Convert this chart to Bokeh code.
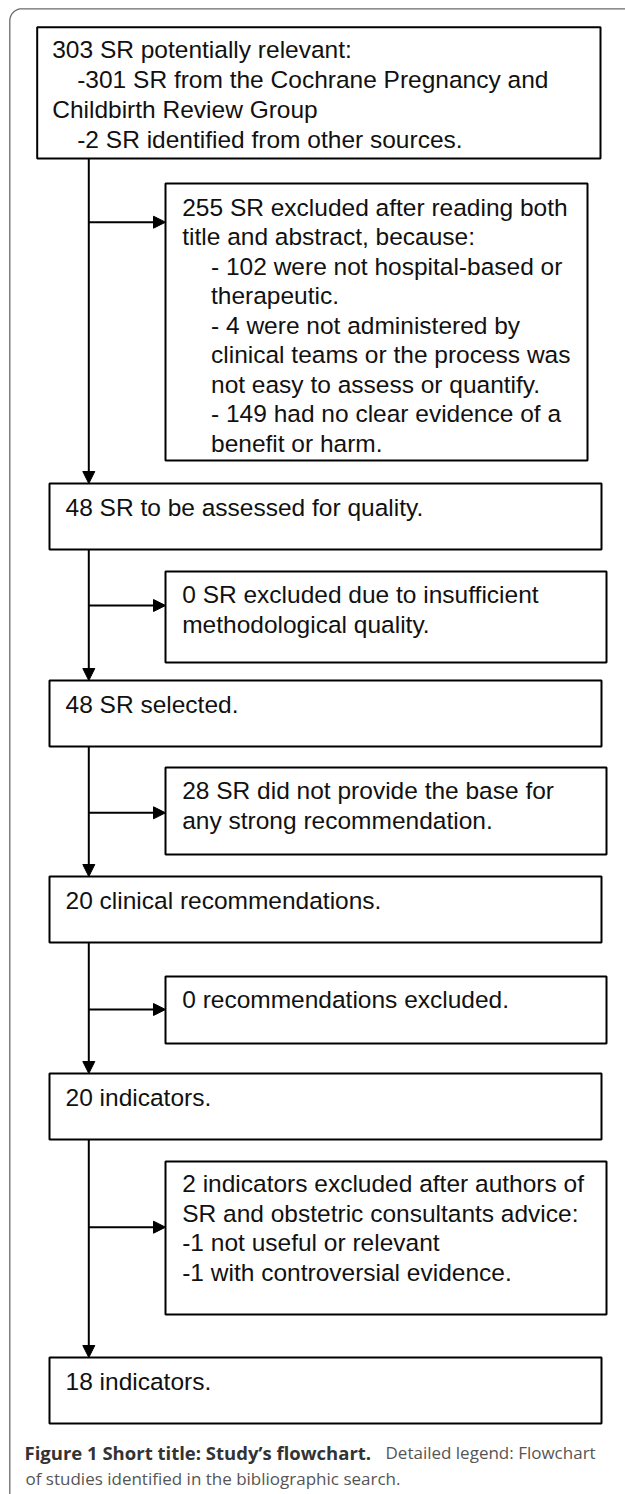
import numpy as np
from bokeh.plotting import figure
from bokeh.models import Range1d, Arrow, NormalHead
from bokeh.core.properties import value
from bokeh.embed import file_html
from bokeh.resources import INLINE

# ---------------- content ----------------
top_box_lines = [
    "303 SR potentially relevant:",
    "-301 SR from the Cochrane Pregnancy and",
    "Childbirth Review Group",
    "-2 SR identified  from other sources.",
]
top_box_indent = [0, 1, 0, 1]

main_box_texts = [
    "48 SR to be assessed for quality.",
    "48 SR selected.",
    "20 clinical recommendations.",
    "20 indicators.",
    "18 indicators.",
]

side_box_lines = [
    ["255 SR excluded after reading both",
     "title and abstract, because:",
     "- 102 were  not hospital-based or",
     "therapeutic.",
     "- 4 were not administered by",
     "clinical teams or the process was",
     "not easy to assess or quantify.",
     "- 149 had no clear evidence of a",
     "benefit or  harm."],
    ["0 SR excluded due to insufficient",
     "methodological quality."],
    ["28 SR did not provide the base for",
     "any strong recommendation."],
    ["0 recommendations excluded."],
    ["2 indicators excluded after authors of",
     "SR and obstetric consultants advice:",
     "-1 not useful or relevant",
     "-1 with controversial evidence."],
]
side_box_indent = [
    [0, 0, 1, 1, 1, 1, 1, 1, 1],
    [0, 0],
    [0, 0],
    [0],
    [0, 0, 0, 0],
]

caption_bold = "Figure 1 Short title: Study\u2019s flowchart."
caption_rest = "Detailed legend: Flowchart"
caption_line2 = "of studies identified in the bibliographic search."

# ---------------- layout ----------------
TOP_BOX = (36.7, 600, 26.7, 158)
MAIN_BOXES = [(49, 601, 483, 549), (49, 601, 680, 746), (49, 601, 876, 942),
              (49, 601, 1073, 1139), (49, 601, 1357, 1423)]
SIDE_BOXES = [(165, 587, 183, 460), (165, 606, 571, 662), (165, 606, 767, 854),
              (165, 606, 976, 1043), (165, 606, 1161, 1314)]
SIDE_ARROW_Y = [221.7, 605, 812.3, 1009, 1226.7]
SIDE_FIRST_Y = [206.7, 594, 790, 999.3, 1183.3]
LINE_H = 29.5
TRUNK_X = 88.3

W, H = 625, 1494
p = figure(width=W, height=H, x_range=Range1d(0, 625), y_range=Range1d(1494, 0),
           x_axis_type=None, y_axis_type=None, toolbar_location=None,
           output_backend="svg", min_border=0, outline_line_color=None,
           background_fill_color="white", border_fill_color="white")
p.grid.visible = False

# outer frame with rounded top-left corner
fx, fy, r = 9.3, 8.3, 12
th = np.linspace(np.pi, 1.5 * np.pi, 20)
frame_x = [fx] + list(fx + r + r * np.cos(th)) + [625]
frame_y = [1494] + list(fy + r + r * np.sin(th)) + [fy]
p.line(frame_x, frame_y, line_color="#6a6a6a", line_width=1.3)

# boxes
all_boxes = [TOP_BOX] + MAIN_BOXES + SIDE_BOXES
p.quad(left=[b[0] for b in all_boxes], right=[b[1] for b in all_boxes],
       top=[b[2] for b in all_boxes], bottom=[b[3] for b in all_boxes],
       fill_color=None, line_color="black", line_width=2)

FONT = value("Liberation Sans")
FS = "24.5px"
TXT = "#111111"

# top box text
tx = [51.7 if ind == 0 else 76.7 for ind in top_box_indent]
ty = [49 + 30 * i for i in range(len(top_box_lines))]
p.text(tx, ty, text=top_box_lines, text_font=FONT, text_font_size=FS,
       text_baseline="middle", text_align="left", text_color=TXT)

# main boxes text
p.text([65] * len(main_box_texts), [b[2] + 23.5 for b in MAIN_BOXES], text=main_box_texts,
       text_font=FONT, text_font_size=FS, text_baseline="middle", text_align="left",
       text_color=TXT)

# side boxes text
sx, sy, st = [], [], []
for lines, inds, y0 in zip(side_box_lines, side_box_indent, SIDE_FIRST_Y):
    for i, (ln, ind) in enumerate(zip(lines, inds)):
        sx.append(181.7 if ind == 0 else 210.5)
        sy.append(y0 + LINE_H * i)
        st.append(ln)
p.text(sx, sy, text=st, text_font=FONT, text_font_size=FS,
       text_baseline="middle", text_align="left", text_color=TXT)

# trunk arrows (down)
prev_bottom = TOP_BOX[3]
for b in MAIN_BOXES:
    p.add_layout(Arrow(end=NormalHead(size=12, fill_color="black", line_color="black", line_width=1),
                       x_start=TRUNK_X, y_start=prev_bottom, x_end=TRUNK_X, y_end=b[2],
                       line_width=2, line_color="black"))
    prev_bottom = b[3]

# side arrows
for b, ay in zip(SIDE_BOXES, SIDE_ARROW_Y):
    p.add_layout(Arrow(end=NormalHead(size=12, fill_color="black", line_color="black", line_width=1),
                       x_start=TRUNK_X, y_start=ay, x_end=b[0], y_end=ay,
                       line_width=2, line_color="black"))

# caption
CFONT = value("Open Sans")
p.text([24], [1452], text=[caption_bold], text_font=CFONT, text_font_size="18.5px",
       text_font_style="bold", text_baseline="middle", text_color="#333333")
p.text([385], [1452], text=[caption_rest], text_font=CFONT, text_font_size="17px",
       text_baseline="middle", text_color="#555555")
p.text([25], [1478], text=[caption_line2], text_font=CFONT, text_font_size="17px",
       text_baseline="middle", text_color="#555555")

open("out.html", "w").write(file_html(p, INLINE))
